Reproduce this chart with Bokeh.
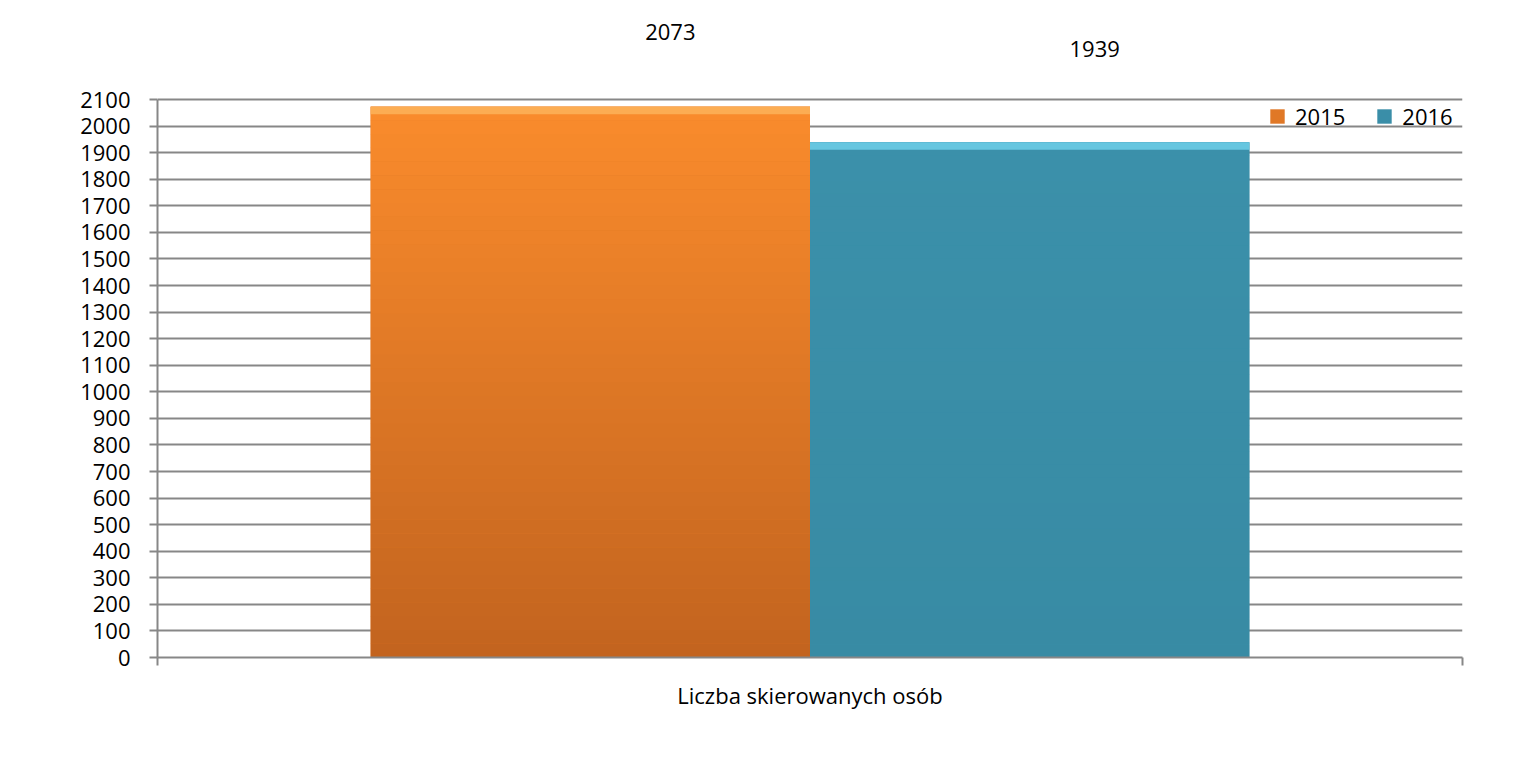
import numpy as np
from bokeh.plotting import figure
from bokeh.models import Range1d, FixedTicker, Legend, LegendItem, ColumnDataSource
from bokeh.core.properties import value
from bokeh.embed import file_html
from bokeh.resources import INLINE

category = "Liczba skierowanych osób"
years = ["2015", "2016"]
values = [2073, 1939]
colors = ["#e07826", "#3a8ea8"]
bottom_colors = ["#c2641f", "#388ba4"]
grad_top_colors = ["#fa8b2c", "#3b90aa"]
top_colors = ["#fdb35a", "#6fd0ea"]
y_ticks = list(range(0, 2101, 100))

FONT = "Open Sans"
GRID = "#878787"

# frame: left 157, right 1462, bottom 657; 2100 at y=99 (0.26571 px per unit)
p = figure(width=1512, height=768, output_backend="svg", toolbar_location=None,
           x_range=Range1d(-1.5, 1.5), y_range=Range1d(0, 2435),
           min_border_left=157, min_border_right=50, min_border_top=10, min_border_bottom=111)
p.outline_line_color = None
p.background_fill_color = "white"
p.border_fill_color = "white"

xs = [-0.505, 0.505]
bar_w = 1.01
src = ColumnDataSource(dict(x=xs, top=values, color=colors, year=years))
r = p.vbar(x="x", top="top", width=bar_w, bottom=0, source=src, fill_color="color",
           line_color=None)


def hex2rgb(h):
    return np.array([int(h[i:i + 2], 16) for i in (1, 3, 5)], dtype=float)


# vertical gradient (styling only)
N = 40
gx, gb, gt, gc = [], [], [], []
for x, v, c0, c1 in zip(xs, values, bottom_colors, grad_top_colors):
    a, b = hex2rgb(c0), hex2rgb(c1)
    edges = np.linspace(0, v, N + 1)
    for k in range(N):
        t = (k + 0.5) / N
        rgb = (a + (b - a) * t).round().astype(int)
        gx.append(x)
        gb.append(edges[k])
        gt.append(edges[k + 1] + 0.5)
        gc.append("#%02x%02x%02x" % tuple(rgb))
p.vbar(x=gx, bottom=gb, top=gt, width=bar_w, fill_color=gc, line_color=None)

# light bevel along bar tops
p.vbar(x=xs, top=values, bottom=[v - 28 for v in values], width=bar_w,
       fill_color=top_colors, line_color=None, fill_alpha=0.85)

# y axis
p.yaxis.bounds = (0, 2100)
p.yaxis.ticker = FixedTicker(ticks=y_ticks, minor_ticks=[])
p.yaxis.major_label_text_font = FONT
p.yaxis.major_label_text_font_size = "22px"
p.yaxis.major_label_text_color = "black"
p.yaxis.axis_line_color = GRID
p.yaxis.axis_line_width = 2
p.yaxis.major_tick_line_color = GRID
p.yaxis.major_tick_line_width = 2
p.yaxis.major_tick_out = 8
p.yaxis.major_tick_in = 0
p.yaxis.major_label_standoff = 19

# x axis (single category)
p.xaxis.ticker = FixedTicker(ticks=[-1.5, 1.5], minor_ticks=[])
p.xaxis.major_label_overrides = {-1.5: "", 1.5: ""}
p.xaxis.axis_label = category
p.xaxis.axis_label_text_font = FONT
p.xaxis.axis_label_text_font_size = "22px"
p.xaxis.axis_label_text_font_style = "normal"
p.xaxis.axis_label_text_color = "black"
p.xaxis.axis_label_standoff = 14
p.xaxis.axis_line_color = GRID
p.xaxis.axis_line_width = 2
p.xaxis.major_tick_line_color = GRID
p.xaxis.major_tick_line_width = 2
p.xaxis.major_tick_out = 8
p.xaxis.major_tick_in = 0

p.xgrid.grid_line_color = None
p.ygrid.ticker = FixedTicker(ticks=y_ticks)
p.ygrid.grid_line_color = GRID
p.ygrid.grid_line_width = 2

# data labels (placed high above the bars as in the original)
lab = ColumnDataSource(dict(x=xs, y=values, text=[str(v) for v in values],
                            dx=[80, 65], dy=[-75, -93]))
p.text(x="x", y="y", text="text", x_offset="dx", y_offset="dy", source=lab,
       text_font=value(FONT), text_font_size="22px", text_color="black",
       text_align="center", text_baseline="middle")

# legend
items = [LegendItem(label=yr, renderers=[r], index=i) for i, yr in enumerate(years)]
legend = Legend(items=items, orientation="horizontal", location=(1111, 526),
                label_text_font=FONT, label_text_font_size="22px", label_text_color="black",
                glyph_width=18, glyph_height=18, label_standoff=9, spacing=30,
                padding=0, margin=0, border_line_color=None,
                background_fill_alpha=0)
p.add_layout(legend)

open("out.html", "w").write(file_html(p, INLINE))
